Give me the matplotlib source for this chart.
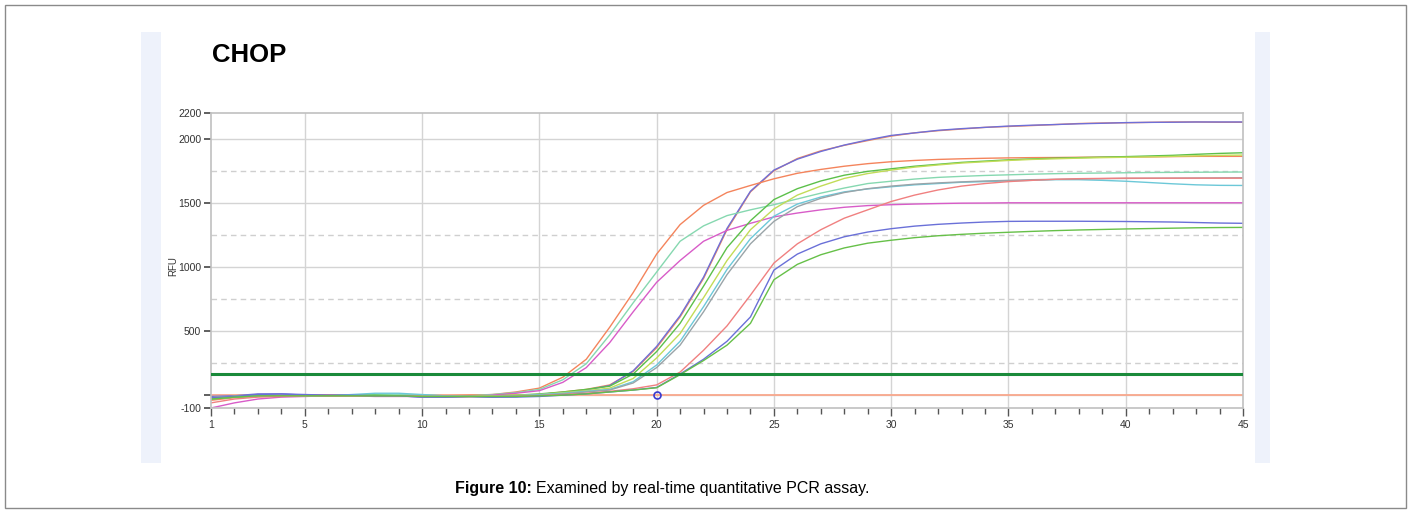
import matplotlib.pyplot as plt
from matplotlib.patches import Rectangle

# amplification cycles
cycles = list(range(1, 46))

# RFU per curve (cycle 1..45)
orange_early = [-20, -10, -5, -5, 0, 0, 0, 0, 0, -5, -5, 0, 5,
                25, 55, 140, 280, 530, 800, 1100, 1330, 1480, 1580, 1635, 1687,
                1730, 1760, 1785, 1805, 1820, 1830, 1838, 1843, 1847, 1850,
                1852, 1853, 1855, 1856, 1857, 1858, 1860, 1862, 1862, 1862]
mint_early = [-30, -15, -8, -5, -5, -5, -5, 5, 5, 0, -5, -5, 5,
              20, 45, 120, 245, 470, 720, 960, 1200, 1320, 1400, 1445, 1485,
              1530, 1575, 1615, 1650, 1668, 1685, 1698, 1706, 1713, 1718,
              1723, 1727, 1730, 1732, 1734, 1736, 1737, 1738, 1739, 1740]
magenta_early = [-100, -60, -30, -15, -10, -5, -5, -10, -10, -10, -10, -10, 0,
                 15, 35, 100, 215, 410, 650, 880, 1050, 1200, 1285, 1340, 1390,
                 1420, 1445, 1465, 1478, 1485, 1490, 1494, 1497, 1498, 1500,
                 1500, 1500, 1500, 1500, 1500, 1500, 1500, 1500, 1500, 1500]
blue_steep = [-10, -5, 10, 10, 0, 0, 0, -5, -5, -15, -15, -10, -15,
              -10, 0, 20, 40, 75, 190, 380, 620, 920, 1300, 1590, 1755,
              1840, 1900, 1950, 1990, 2025, 2045, 2065, 2078, 2088, 2098,
              2105, 2110, 2116, 2120, 2125, 2127, 2128, 2130, 2130, 2130]
orange_steep = [-40, -20, -10, -5, -5, -5, -5, -5, -5, -10, -10, -10, -10,
                -5, 5, 25, 45, 80, 185, 370, 610, 910, 1290, 1585, 1750,
                1845, 1905, 1948, 1985, 2020, 2045, 2062, 2075, 2088, 2095,
                2102, 2110, 2118, 2122, 2124, 2127, 2130, 2130, 2128, 2128]
green_mid = [-30, -15, -5, -5, -5, -5, 0, 0, -5, -10, -10, -10, -5,
             0, 10, 25, 45, 70, 165, 340, 560, 850, 1150, 1360, 1525,
             1610, 1670, 1715, 1745, 1765, 1785, 1800, 1815, 1825, 1835,
             1842, 1848, 1852, 1856, 1860, 1865, 1870, 1878, 1885, 1890]
yellow_mid = [-20, -10, -5, -5, -5, -5, -5, -5, -5, -10, -10, -5, -5,
              0, 5, 20, 35, 55, 130, 290, 480, 760, 1050, 1290, 1452,
              1560, 1630, 1690, 1728, 1755, 1778, 1795, 1810, 1820, 1830,
              1838, 1843, 1848, 1852, 1855, 1858, 1862, 1866, 1870, 1872]
cyan_mid = [-20, -10, -5, -5, -5, -5, 5, 15, 15, 5, -5, -10, -10,
            -5, 5, 15, 30, 45, 105, 235, 420, 690, 980, 1220, 1395,
            1490, 1545, 1585, 1608, 1625, 1640, 1650, 1660, 1665, 1670,
            1675, 1680, 1680, 1675, 1668, 1658, 1648, 1640, 1636, 1635]
gray_mid = [-20, -10, -5, -5, -5, -5, -5, -5, -5, -10, -10, -10, -10,
            -5, 0, 10, 25, 40, 95, 215, 390, 650, 940, 1180, 1355,
            1470, 1535, 1580, 1610, 1630, 1645, 1655, 1663, 1670, 1675,
            1680, 1683, 1686, 1688, 1690, 1691, 1692, 1693, 1694, 1695]
salmon_late = [-60, -30, -15, -10, -5, -5, -5, -5, -5, -10, -10, -10, -10,
               -10, -5, 5, 15, 30, 50, 80, 180, 350, 540, 780, 1030,
               1180, 1290, 1380, 1445, 1510, 1560, 1600, 1630, 1650, 1665,
               1675, 1683, 1688, 1690, 1692, 1692, 1692, 1692, 1692, 1692]
blue_late = [-20, -10, 5, 10, 5, 0, 0, -5, -5, -15, -15, -10, -15,
             -15, -10, 0, 10, 25, 40, 60, 165, 280, 420, 610, 975,
             1100, 1180, 1235, 1272, 1298, 1318, 1332, 1342, 1350, 1355,
             1356, 1356, 1356, 1355, 1354, 1352, 1350, 1346, 1342, 1340]
green_late = [-30, -15, -5, -5, -5, -5, -5, -5, -5, -10, -10, -10, -10,
              -10, -5, 0, 10, 25, 40, 58, 160, 270, 390, 560, 900,
              1020, 1095, 1148, 1185, 1208, 1228, 1243, 1254, 1263, 1270,
              1277, 1283, 1288, 1292, 1296, 1299, 1302, 1305, 1307, 1308]

curves = [
    (orange_steep, "#f08a60"),
    (blue_steep, "#6f6fd8"),
    (orange_early, "#f4845c"),
    (mint_early, "#86d8b0"),
    (magenta_early, "#d85cc8"),
    (green_mid, "#5cc04a"),
    (yellow_mid, "#c2dc58"),
    (cyan_mid, "#6cc8d8"),
    (gray_mid, "#9aa4a8"),
    (salmon_late, "#f08080"),
    (blue_late, "#6a70d8"),
    (green_late, "#66c048"),
]

threshold = 165
baseline_level = 0
marker_cycle = 20

y_ticks = [-100, 0, 500, 1000, 1500, 2000, 2200]
y_ticklabels = ["-100", "", "500", "1000", "1500", "2000", "2200"]
y_dashed = [250, 750, 1250, 1750]
y_solid = [0, 500, 1000, 1500, 2000]
x_ticks = [1, 5, 10, 15, 20, 25, 30, 35, 40, 45]

fig = plt.figure(figsize=(14.13, 5.13), dpi=100)

# outer frame and light side panels
fig.patches.append(Rectangle((5 / 1413, 5 / 513), 1401 / 1413, 503 / 513,
                             transform=fig.transFigure, fill=False,
                             edgecolor="#8a8a8a", linewidth=1))
fig.patches.append(Rectangle((141 / 1413, 1 - 463 / 513), 20 / 1413, 431 / 513,
                             transform=fig.transFigure, facecolor="#eef2fb",
                             edgecolor="none"))
fig.patches.append(Rectangle((1255 / 1413, 1 - 463 / 513), 15 / 1413, 431 / 513,
                             transform=fig.transFigure, facecolor="#eef2fb",
                             edgecolor="none"))

ax = fig.add_axes([211 / 1413, 1 - 408 / 513, 1032 / 1413, 295 / 513])

for v in y_solid:
    ax.axhline(v, color="#d4d4d4", linewidth=1.0, zorder=0)
for v in y_dashed:
    ax.axhline(v, color="#cfcfcf", linewidth=1.0, linestyle=(0, (4, 3)), zorder=0)
for c in x_ticks[1:-1]:
    ax.axvline(c, color="#d4d4d4", linewidth=1.0, zorder=0)

ax.axhline(baseline_level, color="#f9a88c", linewidth=1.3, zorder=1)

for vals, col in curves:
    ax.plot(cycles, vals, color=col, linewidth=1.0, zorder=2)

ax.axhline(threshold, color="#1a8a3a", linewidth=2.2, zorder=3)
ax.plot([marker_cycle], [baseline_level], marker="o", markersize=5,
        markerfacecolor="none", markeredgecolor="#3a3ad0", markeredgewidth=1.2,
        zorder=4)

ax.set_xlim(1, 45)
ax.set_ylim(-100, 2200)
ax.set_xticks(x_ticks)
ax.set_xticks(cycles, minor=True)
ax.set_yticks(y_ticks)
ax.set_yticklabels(y_ticklabels)

tick_font = ["Liberation Sans Narrow", "Liberation Sans", "DejaVu Sans"]
for lab in ax.get_xticklabels() + ax.get_yticklabels():
    lab.set_family(tick_font)
    lab.set_fontsize(7.5)
    lab.set_color("#333333")

ax.tick_params(axis="x", which="major", length=6, width=1, color="#555555", pad=3)
ax.tick_params(axis="x", which="minor", length=4, width=1, color="#555555")
ax.tick_params(axis="y", which="major", length=5, width=1.2, color="#444444", pad=2)

for s in ax.spines.values():
    s.set_color("#c0c0c0")
    s.set_linewidth(1.2)

ax.set_ylabel("RFU", fontsize=7, family=tick_font, color="#333333")
ax.yaxis.set_label_coords((178 - 211) / 1032, 0.48)

fig.text(212 / 1413, 1 - 62 / 513, "CHOP", fontsize=18.5, fontweight="bold",
         family=["Liberation Sans", "DejaVu Sans"], ha="left", va="baseline")

# caption: bold lead-in followed by plain text
cap_y = 1 - 493 / 513
cap_font = ["Liberation Sans", "DejaVu Sans"]
t1 = fig.text(455 / 1413, cap_y, "Figure 10:", fontsize=11.5, fontweight="bold",
              family=cap_font, ha="left", va="baseline")
renderer = fig.canvas.get_renderer()
bb = t1.get_window_extent(renderer=renderer)
fig.text((bb.x1 + 4) / 1413, cap_y, "Examined by real-time quantitative PCR assay.",
         fontsize=11.5, family=cap_font, ha="left", va="baseline")

plt.savefig("out.png", dpi=100)
